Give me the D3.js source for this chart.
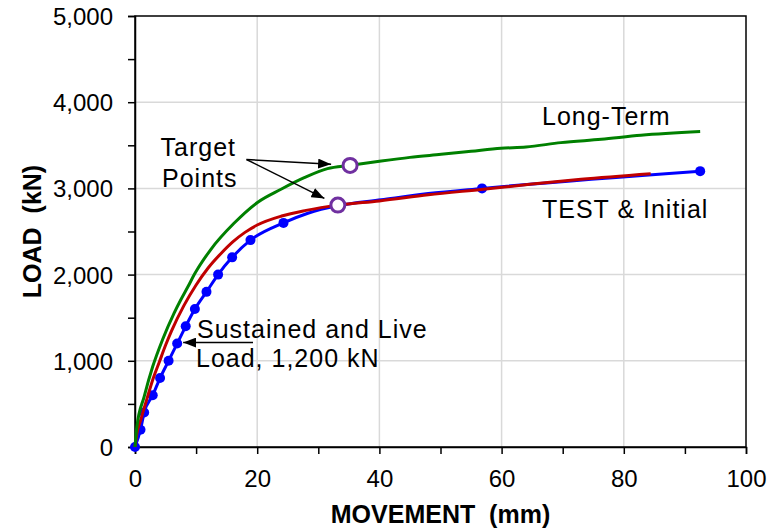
<!DOCTYPE html>
<html>
<head>
<meta charset="utf-8">
<script src="https://cdn.jsdelivr.net/npm/d3@7"></script>
<style>
  body { margin: 0; background: #fff; }
  svg text { font-family: Arial, "Liberation Sans", sans-serif; }
</style>
</head>
<body>
<div id="chart"></div>
<script>
// Test curve: points with markers
const testMove = [0, 0.9, 1.5, 2.9, 4.1, 5.5, 6.9, 8.3, 9.8, 11.7, 13.6, 15.9, 18.9, 24.3, 56.8, 92.5];
const testLoad = [0, 200, 400, 600, 800, 1000, 1200, 1400, 1600, 1800, 2000, 2200, 2400, 2600, 3000, 3200];
// Test curve: extra trace points between markers (no marker)
const testTraceMove = [28.3, 33.2, 40.3, 48];
const testTraceLoad = [2712, 2800, 2868, 2940];

// Initial (red)
const initialMove = [0, 0.3, 1, 2, 3, 4, 5, 6, 8, 10, 12, 14, 16, 18, 20, 24, 28, 33.2, 40, 48, 57, 65, 73, 84.4];
const initialLoad = [0, 150, 330, 570, 800, 990, 1180, 1350, 1640, 1880, 2080, 2240, 2380, 2490, 2575, 2680, 2745, 2806, 2855, 2925, 2990, 3050, 3105, 3170];

// Long-Term (green)
const longMove = [0, 0.3, 1.5, 2.9, 4.5, 6.4, 7.5, 8.7, 9.7, 12.4, 16.2, 20.1, 23.9, 27.7, 31.5, 35.2, 40.3, 45, 50.1, 55, 59.9, 64, 69.7, 76.3, 82.8, 92.5];
const longLoad = [0, 230, 585, 933, 1244, 1554, 1709, 1864, 2000, 2291, 2595, 2840, 2990, 3124, 3229, 3267, 3318, 3360, 3395, 3430, 3465, 3480, 3531, 3570, 3616, 3659];

// Target points (long-term, initial)
const targetMove = [35.2, 33.2];
const targetLoad = [3267, 2806];

const xTicks = [0, 20, 40, 60, 80, 100];
const yTicks = [0, 1000, 2000, 3000, 4000, 5000];

const W = 769, H = 531;
const margin = {top: 16, right: 23, bottom: 84, left: 135};

const svg = d3.select("#chart").append("svg")
  .attr("width", W).attr("height", H);

const x = d3.scaleLinear().domain([0, 100]).range([margin.left, W - margin.right]);
const y = d3.scaleLinear().domain([0, 5000]).range([H - margin.bottom, margin.top]);

const zip = (a, b) => a.map((v, i) => [v, b[i]]);
const testDots = zip(testMove, testLoad);
const testLine = testDots.concat(zip(testTraceMove, testTraceLoad)).sort((a, b) => a[0] - b[0]);
const initial = zip(initialMove, initialLoad);
const longTerm = zip(longMove, longLoad);
const targets = zip(targetMove, targetLoad);

// gridlines
svg.append("g").selectAll("line.gx")
  .data(xTicks.slice(1, -1)).enter().append("line")
  .attr("x1", d => x(d)).attr("x2", d => x(d))
  .attr("y1", y(0)).attr("y2", y(5000))
  .attr("stroke", "#d9d9d9").attr("stroke-width", 1.5);
svg.append("g").selectAll("line.gy")
  .data(yTicks.slice(1, -1)).enter().append("line")
  .attr("x1", x(0)).attr("x2", x(100))
  .attr("y1", d => y(d)).attr("y2", d => y(d))
  .attr("stroke", "#d9d9d9").attr("stroke-width", 1.5);

// plot border
svg.append("rect")
  .attr("x", x(0)).attr("y", y(5000))
  .attr("width", x(100) - x(0)).attr("height", y(0) - y(5000))
  .attr("fill", "none").attr("stroke", "#000").attr("stroke-width", 1.5);

// axes
const xAxis = svg.append("g")
  .attr("transform", `translate(0,${y(0)})`)
  .call(d3.axisBottom(x).tickValues(d3.range(0, 101, 10)).tickSize(7).tickFormat(d => d % 20 === 0 ? d : ""));
const yAxis = svg.append("g")
  .attr("transform", `translate(${x(0)},0)`)
  .call(d3.axisLeft(y).tickValues(d3.range(0, 5001, 500)).tickSize(7).tickFormat(d => d % 1000 === 0 ? d3.format(",")(d) : ""));

[xAxis, yAxis].forEach(g => {
  g.select(".domain").attr("stroke", "#000").attr("stroke-width", 1.5);
  g.selectAll(".tick line").attr("stroke", "#000").attr("stroke-width", 1.5);
  g.selectAll(".tick text").attr("fill", "#000").style("font-size", "24px")
    .style("font-family", "Arial, 'Liberation Sans', sans-serif");
});
xAxis.selectAll(".tick text").attr("y", 0).attr("dy", "40px");
yAxis.selectAll(".tick text").attr("x", -22).attr("dy", "0.35em");

// axis titles
svg.append("text")
  .attr("x", (x(0) + x(100)) / 2).attr("y", 523)
  .attr("text-anchor", "middle")
  .style("font-size", "25px").style("font-weight", "bold").style("white-space", "pre")
  .text("MOVEMENT  (mm)");
svg.append("text")
  .attr("transform", `translate(41,${(y(0) + y(5000)) / 2}) rotate(-90)`)
  .attr("text-anchor", "middle")
  .style("font-size", "25px").style("font-weight", "bold").style("white-space", "pre")
  .text("LOAD  (kN)");

// lines
const line = d3.line().x(d => x(d[0])).y(d => y(d[1])).curve(d3.curveMonotoneX);

svg.append("path").datum(testLine)
  .attr("d", line).attr("fill", "none").attr("stroke", "#0000ff").attr("stroke-width", 3);
svg.append("g").selectAll("circle")
  .data(testDots).enter().append("circle")
  .attr("cx", d => x(d[0])).attr("cy", d => y(d[1]))
  .attr("r", 5).attr("fill", "#0000ff");

svg.append("path").datum(initial)
  .attr("d", line).attr("fill", "none").attr("stroke", "#c00000").attr("stroke-width", 3);
svg.append("path").datum(longTerm)
  .attr("d", line).attr("fill", "none").attr("stroke", "#008000").attr("stroke-width", 3);

// target points
svg.append("g").selectAll("circle")
  .data(targets).enter().append("circle")
  .attr("cx", d => x(d[0])).attr("cy", d => y(d[1]))
  .attr("r", 7).attr("fill", "#fff").attr("stroke", "#7030a0").attr("stroke-width", 3);

// arrowheads
svg.append("defs").append("marker")
  .attr("id", "arrow").attr("markerUnits", "userSpaceOnUse")
  .attr("markerWidth", 13).attr("markerHeight", 10)
  .attr("refX", 13).attr("refY", 5).attr("orient", "auto")
  .append("path").attr("d", "M0,0 L13,5 L0,10 Z").attr("fill", "#000");

const textStyle = sel => sel.style("font-size", "25px").style("letter-spacing", "1px").attr("fill", "#000");

// Target Points annotation
svg.append("text").attr("x", 160.5).attr("y", 156).call(textStyle).text("Target");
svg.append("text").attr("x", 162).attr("y", 186.5).call(textStyle).text("Points");
const arrowStart = [246.5, 159.5];
targets.forEach((d, i) => {
  const cx = x(d[0]), cy = y(d[1]);
  const dx = cx - arrowStart[0], dy = cy - arrowStart[1];
  const dist = Math.hypot(dx, dy);
  const k = (dist - (i === 0 ? 19 : 15)) / dist;
  svg.append("line")
    .attr("x1", arrowStart[0]).attr("y1", arrowStart[1])
    .attr("x2", arrowStart[0] + dx * k).attr("y2", arrowStart[1] + dy * k)
    .attr("stroke", "#000").attr("stroke-width", 1.5)
    .attr("marker-end", "url(#arrow)");
});

// Sustained load annotation
svg.append("text").attr("x", 197).attr("y", 338.3).call(textStyle).text("Sustained and Live");
svg.append("text").attr("x", 196).attr("y", 366.7).call(textStyle).text("Load, 1,200 kN");
svg.append("line")
  .attr("x1", 253).attr("y1", y(1200) - 1)
  .attr("x2", x(6.9) + 6).attr("y2", y(1200) - 1)
  .attr("stroke", "#000").attr("stroke-width", 1.5)
  .attr("marker-end", "url(#arrow)");

// series labels
svg.append("text").attr("x", 542).attr("y", 125).call(textStyle).text("Long-Term");
svg.append("text").attr("x", 542).attr("y", 218.3).call(textStyle).text("TEST & Initial");
</script>
</body>
</html>
